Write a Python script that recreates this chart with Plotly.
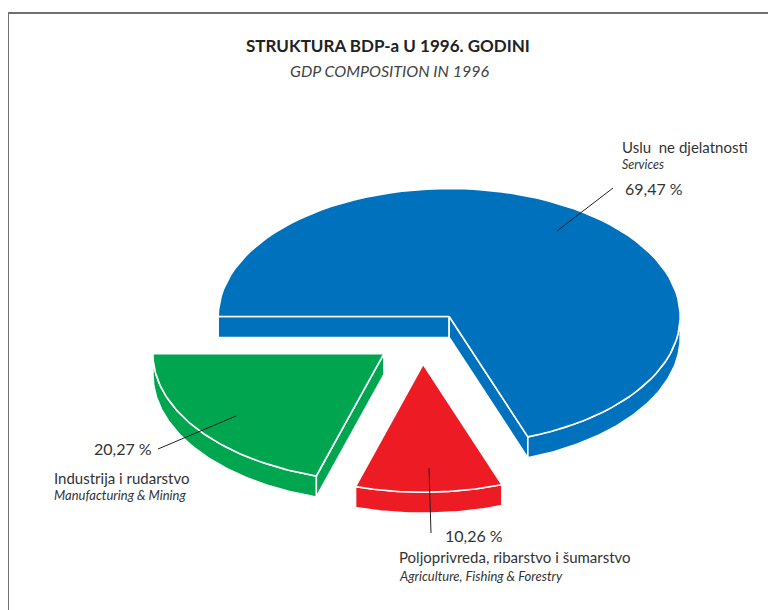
import math

import plotly.graph_objs as go

# data, clockwise from 9 o'clock
labels_hr = ["Uslu  ne djelatnosti", "Poljoprivreda, ribarstvo i šumarstvo", "Industrija i rudarstvo"]
labels_en = ["Services", "Agriculture, Fishing & Forestry", "Manufacturing & Mining"]
shares = [69.47, 10.26, 20.27]
colors = ["#0071BC", "#ED1C24", "#00A54F"]

# geometry of the tilted pie (pixel space)
CX, CY = 422, 338
RX, RY = 231, 128
DEPTH = 21
PULL = 0.205
START = 180.0

W, H = 776, 610
OFF = 8  # page body margin
FONT = "Lato"
TXT = "#333333"


def pt(t, ox, oy, dz=0):
  r = math.radians(t)
  return CX + ox + RX * math.cos(r), CY + oy - RY * math.sin(r) + dz


def arc(a, b, ox, oy, dz=0, n=80):
  xs, ys = [], []
  for i in range(n + 1):
    x, y = pt(a + (b - a) * i / n, ox, oy, dz)
    xs.append(x)
    ys.append(y)
  return xs, ys


def poly(fig, xs, ys, color, name=None):
  fig.add_trace(go.Scatter(
    x=xs + [xs[0]], y=ys + [ys[0]], mode="lines", fill="toself",
    fillcolor=color, line=dict(color="white", width=1.6),
    hoverinfo="text" if name else "skip", text=name, showlegend=False))


fig = go.Figure()

total = sum(shares)
a0 = START
for lab, en, v, col in zip(labels_hr, labels_en, shares, colors):
  a1 = a0 - v / total * 360.0
  mid = math.radians((a0 + a1) / 2)
  ox = PULL * RX * math.cos(mid)
  oy = -PULL * RY * math.sin(mid)
  cx0, cy0 = CX + ox, CY + oy

  # radial walls facing the viewer
  if math.cos(math.radians(a0)) < 0:
    x1, y1 = pt(a0, ox, oy)
    poly(fig, [cx0, x1, x1, cx0], [cy0, y1, y1 + DEPTH, cy0 + DEPTH], col)
  if math.cos(math.radians(a1)) > 0:
    x1, y1 = pt(a1, ox, oy)
    poly(fig, [cx0, x1, x1, cx0], [cy0, y1, y1 + DEPTH, cy0 + DEPTH], col)

  # outer wall on the front half of the ellipse
  for k in (-360, 0, 360):
    lo, hi = max(a1, -180 + k), min(a0, 0 + k)
    if hi > lo:
      tx, ty = arc(hi, lo, ox, oy)
      bx, by = arc(lo, hi, ox, oy, DEPTH)
      poly(fig, tx + bx, ty + by, col)

  # top face
  tx, ty = arc(a0, a1, ox, oy)
  poly(fig, [cx0] + tx, [cy0] + ty, col, f"{lab}<br>{v:.2f} %".replace(".", ","))
  a0 = a1


def pct(v):
  return f"{v:.2f}".replace(".", ",") + " %"


ann = []
# title
ann.append(dict(x=388, y=45, text="<b>STRUKTURA BDP-a U 1996. GODINI</b>",
                font=dict(size=17, family=FONT, color="#222222")))
ann.append(dict(x=390, y=70, text="<i>GDP COMPOSITION IN 1996</i>",
                font=dict(size=16, family=FONT, color="#444444")))

# services
ann.append(dict(x=620, y=147, text=labels_hr[0], xanchor="left",
                font=dict(size=15, family=FONT, color=TXT)))
ann.append(dict(x=620, y=164, text=f"<i>{labels_en[0]}</i>", xanchor="left",
                font=dict(size=12.5, family=FONT, color=TXT)))
ann.append(dict(x=623, y=188, text=pct(shares[0]), xanchor="left",
                font=dict(size=16, family=FONT, color=TXT)))
# manufacturing
ann.append(dict(x=154, y=448, text=pct(shares[2]), xanchor="right",
                font=dict(size=16, family=FONT, color=TXT)))
ann.append(dict(x=52, y=478, text=labels_hr[2], xanchor="left",
                font=dict(size=15, family=FONT, color=TXT)))
ann.append(dict(x=52, y=495, text=f"<i>{labels_en[2]}</i>", xanchor="left",
                font=dict(size=13, family=FONT, color=TXT)))
# agriculture
ann.append(dict(x=443, y=535, text=pct(shares[1]), xanchor="left",
                font=dict(size=16, family=FONT, color=TXT)))
ann.append(dict(x=397, y=557, text=labels_hr[1], xanchor="left",
                font=dict(size=15, family=FONT, color=TXT)))
ann.append(dict(x=397, y=576, text=f"<i>{labels_en[1]}</i>", xanchor="left",
                font=dict(size=13, family=FONT, color=TXT)))
for a in ann:
  a.update(xref="x", yref="y", showarrow=False, yanchor="middle")
  a.setdefault("xanchor", "center")

shapes = [
  # leader lines
  dict(type="line", x0=557, y0=231, x1=613, y1=188),
  dict(type="line", x0=158, y0=449, x1=236, y1=416),
  dict(type="line", x0=429, y0=468, x1=431, y1=533),
]
for s in shapes:
  s.update(xref="x", yref="y", line=dict(color="#222222", width=1))
# frame
shapes.append(dict(type="line", xref="x", yref="y", x0=8, y0=13, x1=W + OFF, y1=13,
                   line=dict(color="#707070", width=2)))
shapes.append(dict(type="line", xref="x", yref="y", x0=8, y0=13, x1=8, y1=H + OFF,
                   line=dict(color="#707070", width=2)))

fig.update_layout(
  width=W, height=H, margin=dict(l=0, r=0, t=0, b=0),
  paper_bgcolor="white", plot_bgcolor="white",
  xaxis=dict(range=[OFF, W + OFF], visible=False, fixedrange=True),
  yaxis=dict(range=[H + OFF, OFF], visible=False, fixedrange=True),
  annotations=ann, shapes=shapes, showlegend=False,
)
fig.write_html("out.html")
